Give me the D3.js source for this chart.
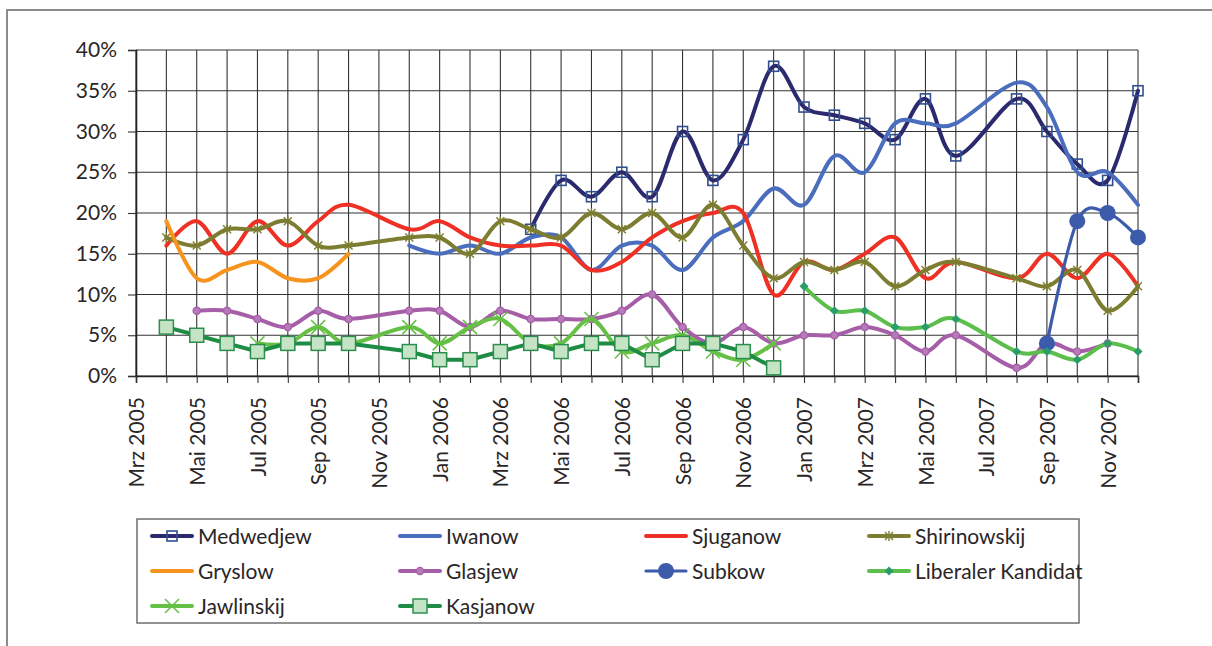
<!DOCTYPE html>
<html><head><meta charset="utf-8">
<script src="https://cdn.jsdelivr.net/npm/d3@7"></script>
<style>
html,body{margin:0;padding:0;background:#fff;}
svg{display:block;font-family:"Lato","Open Sans",sans-serif;}
</style></head>
<body>
<svg id="c" width="1212" height="646"></svg>
<script>
const months = ["Mrz 2005","Apr 2005","Mai 2005","Jun 2005","Jul 2005","Aug 2005","Sep 2005","Okt 2005","Nov 2005","Dez 2005",
"Jan 2006","Feb 2006","Mrz 2006","Apr 2006","Mai 2006","Jun 2006","Jul 2006","Aug 2006","Sep 2006","Okt 2006","Nov 2006","Dez 2006",
"Jan 2007","Feb 2007","Mrz 2007","Apr 2007","Mai 2007","Jun 2007","Jul 2007","Aug 2007","Sep 2007","Okt 2007","Nov 2007","Dez 2007"];
const yTicks = [0,5,10,15,20,25,30,35,40];
const _ = null;
//                 Mrz Apr Mai Jun Jul Aug Sep Okt Nov Dez Jan Feb Mrz Apr Mai Jun Jul Aug Sep Okt Nov Dez Jan Feb Mrz Apr Mai Jun Jul Aug Sep Okt Nov Dez
const medwedjew   = [_,  _,  _,  _,  _,  _,  _,  _,  _,  _,  _,  _,  _,  18, 24, 22, 25, 22, 30, 24, 29, 38, 33, 32, 31, 29, 34, 27, _,  34, 30, 26, 24, 35];
const iwanow      = [_,  _,  _,  _,  _,  _,  _,  _,  _,  16, 15, 16, 15, 17, 17, 13, 16, 16, 13, 17, 19, 23, 21, 27, 25, 31, 31, 31, _,  36, 33, 25, 25, 21];
const sjuganow    = [_,  16, 19, 15, 19, 16, 19, 21, _,  18, 19, 17, 16, 16, 16, 13, 14, 17, 19, 20, 20, 10, 14, 13, 15, 17, 12, 14, _,  12, 15, 12, 15, 11];
const shirinowskij= [_,  17, 16, 18, 18, 19, 16, 16, _,  17, 17, 15, 19, 18, 17, 20, 18, 20, 17, 21, 16, 12, 14, 13, 14, 11, 13, 14, _,  12, 11, 13, 8,  11];
const gryslow     = [_,  19, 12, 13, 14, 12, 12, 15, _,  _,  _,  _,  _,  _,  _,  _,  _,  _,  _,  _,  _,  _,  _,  _,  _,  _,  _,  _,  _,  _,  _,  _,  _,  _ ];
const glasjew     = [_,  _,  8,  8,  7,  6,  8,  7,  _,  8,  8,  6,  8,  7,  7,  7,  8,  10, 6,  4,  6,  4,  5,  5,  6,  5,  3,  5,  _,  1,  4,  3,  4,  _ ];
const subkow      = [_,  _,  _,  _,  _,  _,  _,  _,  _,  _,  _,  _,  _,  _,  _,  _,  _,  _,  _,  _,  _,  _,  _,  _,  _,  _,  _,  _,  _,  _,  4,  19, 20, 17];
const liberaler   = [_,  _,  _,  _,  _,  _,  _,  _,  _,  _,  _,  _,  _,  _,  _,  _,  _,  _,  _,  _,  _,  _,  11, 8,  8,  6,  6,  7,  _,  3,  3,  2,  4,  3 ];
const jawlinskij  = [_,  _,  _,  _,  4,  4,  6,  4,  _,  6,  4,  6,  7,  4,  4,  7,  3,  4,  5,  3,  2,  4,  _,  _,  _,  _,  _,  _,  _,  _,  _,  _,  _,  _ ];
const kasjanow    = [_,  6,  5,  4,  3,  4,  4,  4,  _,  3,  2,  2,  3,  4,  3,  4,  4,  2,  4,  4,  3,  1,  _,  _,  _,  _,  _,  _,  _,  _,  _,  _,  _,  _ ];

const seriesNames = ["Medwedjew","Iwanow","Sjuganow","Shirinowskij","Gryslow","Glasjew","Subkow","Liberaler Kandidat","Jawlinskij","Kasjanow"];
const seriesData  = [medwedjew, iwanow, sjuganow, shirinowskij, gryslow, glasjew, subkow, liberaler, jawlinskij, kasjanow];
const seriesColor = ["#2c2a6f","#4a6ebd","#ee3124","#7d7d32","#f7941d","#a65ea8","#3d5bab","#5cbe4c","#66c046","#1f8c46"];
const seriesMarker= ["hsquare","none","none","star","none","dot","bigcircle","diamond","x","gsquare"];

const svg = d3.select("#c");
const textColor = "#2a2627";

// outer frame (top & left edges)
svg.append("path").attr("d","M7,646 V10 H1212").attr("fill","none").attr("stroke","#8c8c8c").attr("stroke-width",2);

const x = d3.scalePoint().domain(months).range([136,1138]).padding(0);
const y = d3.scaleLinear().domain([0,40]).range([376,50]);

// gridlines
const grid = svg.append("g");
grid.selectAll("line.h").data(yTicks).join("line")
  .attr("x1",136).attr("x2",1138).attr("y1",d=>y(d)).attr("y2",d=>y(d))
  .attr("stroke","#333").attr("stroke-width",1.1);
grid.selectAll("line.v").data(months).join("line")
  .attr("x1",d=>x(d)).attr("x2",d=>x(d)).attr("y1",50).attr("y2",376)
  .attr("stroke","#333").attr("stroke-width",1.1);

// axes
const yAxis = svg.append("g").attr("transform","translate(136,0)")
  .call(d3.axisLeft(y).tickValues(yTicks).tickFormat(d=>d+"%").tickSize(8).tickPadding(11));
const xAxis = svg.append("g").attr("transform","translate(0,376)")
  .call(d3.axisBottom(x).tickSize(7).tickFormat((d,i)=> i%2===0 ? d : ""));
[yAxis,xAxis].forEach(a=>{
  a.select(".domain").attr("stroke","#222").attr("stroke-width",1.6);
  a.selectAll(".tick line").attr("stroke","#333").attr("stroke-width",1.1);
  a.selectAll("text").attr("fill",textColor).style("font-size","21px")
    .style("font-family","Lato, 'Open Sans', sans-serif");
});
xAxis.selectAll(".tick text")
  .attr("transform","rotate(-90)")
  .attr("text-anchor","end")
  .attr("x",-21).attr("y",0).attr("dy","0.36em");

// lines
const smooth = d3.line().x(d=>x(d.m)).y(d=>y(d.v)).curve(d3.curveCardinal.tension(0));
const straight = d3.line().x(d=>x(d.m)).y(d=>y(d.v));

function markerPath(type){
  switch(type){
    case "star": return "M-4,-4L4,4M-4,4L4,-4M0,-5V5";
    case "x": return "M-7,-7L7,7M-7,7L7,-7";
    default: return null;
  }
}
function drawMarker(g, type, color, cx, cy){
  if(type==="hsquare"){
    g.append("rect").attr("x",cx-5).attr("y",cy-5).attr("width",10).attr("height",10)
      .attr("fill","none").attr("stroke","#2f4f90").attr("stroke-width",1.6);
  } else if(type==="gsquare"){
    g.append("rect").attr("x",cx-7).attr("y",cy-7).attr("width",14).attr("height",14)
      .attr("fill","#c5e4c6").attr("stroke","#2a8f4c").attr("stroke-width",1.5);
  } else if(type==="dot"){
    g.append("circle").attr("cx",cx).attr("cy",cy).attr("r",3.6)
      .attr("fill","#b57ab7").attr("stroke",color).attr("stroke-width",1.3);
  } else if(type==="bigcircle"){
    g.append("circle").attr("cx",cx).attr("cy",cy).attr("r",8).attr("fill",color);
  } else if(type==="diamond"){
    g.append("path").attr("d",`M${cx},${cy-4.5}L${cx+4.5},${cy}L${cx},${cy+4.5}L${cx-4.5},${cy}Z`)
      .attr("fill","#2a9e6a");
  } else if(type==="star"||type==="x"){
    g.append("path").attr("transform",`translate(${cx},${cy})`).attr("d",markerPath(type))
      .attr("fill","none").attr("stroke",color).attr("stroke-width",type==="x"?1.5:1.4);
  }
}

const plot = svg.append("g");
seriesData.forEach((arr,si)=>{
  const pts = arr.map((v,i)=>({m:months[i],v})).filter(d=>d.v!==null);
  const g = plot.append("g");
  const gen = (seriesNames[si]==="Kasjanow") ? straight : smooth;
  g.append("path").attr("d",gen(pts)).attr("fill","none")
    .attr("stroke",seriesColor[si])
    .attr("stroke-width", seriesNames[si]==="Subkow" ? 3.2 : 4)
    .attr("stroke-linejoin","round").attr("stroke-linecap","round");
  if(seriesMarker[si]!=="none"){
    pts.forEach(p=>drawMarker(g, seriesMarker[si], seriesColor[si], x(p.m), y(p.v)));
  }
});

// legend
const lg = svg.append("g");
lg.append("rect").attr("x",137).attr("y",519).attr("width",942).attr("height",104)
  .attr("fill","#fff").attr("stroke","#6e6e6e").attr("stroke-width",1.5);
const colX = [152,400,646,869];
const rowY = [536,571,606];
seriesNames.forEach((name,i)=>{
  const cx = colX[i%4], cy = rowY[Math.floor(i/4)];
  const g = lg.append("g");
  g.append("line").attr("x1",cx).attr("x2",cx+40).attr("y1",cy).attr("y2",cy)
    .attr("stroke",seriesColor[i]).attr("stroke-width",seriesNames[i]==="Subkow"?3.2:4).attr("stroke-linecap","round");
  if(seriesMarker[i]!=="none") drawMarker(g, seriesMarker[i], seriesColor[i], cx+20, cy);
  g.append("text").attr("x",cx+46).attr("y",cy).attr("dy","0.36em")
    .attr("fill",textColor).style("font-size","21px").text(name);
});
</script>
</body></html>
